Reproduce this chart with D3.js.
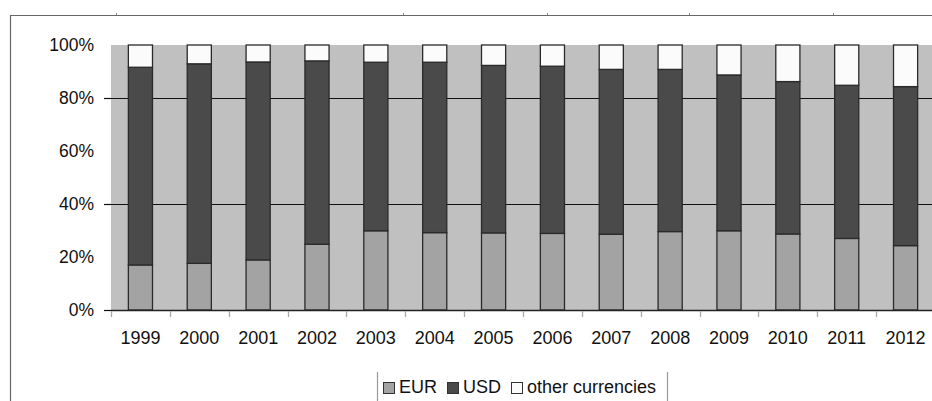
<!DOCTYPE html>
<html><head><meta charset="utf-8">
<script src="https://cdn.jsdelivr.net/npm/d3@7"></script>
<style>
html,body{margin:0;padding:0;background:#fff;}
svg{display:block;}
text{font-family:"Liberation Sans",Arial,sans-serif;fill:#111;}
</style></head>
<body>
<svg id="chart" width="932" height="401"></svg>
<script>
const years = ["1999","2000","2001","2002","2003","2004","2005","2006","2007","2008","2009","2010","2011","2012"];
const eur = [17.0,17.6,18.9,24.8,29.9,29.2,29.1,28.9,28.6,29.6,29.9,28.7,27.0,24.3];
const usd = [74.6,75.3,74.7,69.2,63.6,64.3,63.2,63.1,62.2,61.2,58.8,57.5,57.8,60.0];
const other = [8.4,7.1,6.4,6.0,6.5,6.5,7.7,8.0,9.2,9.2,11.3,13.8,15.2,15.7];
const seriesNames = ["EUR","USD","other currencies"];
const seriesColors = ["#a3a3a3","#4a4a4a","#fbfbfb"];
const yTicks = [0,20,40,60,80,100];
const gridValues = [40,80];

const svg = d3.select("#chart");
const m = {left:111, right:935, top:45, bottom:310};

// outer frame
svg.append("line").attr("x1",10).attr("x2",932).attr("y1",15.5).attr("y2",15.5).attr("stroke","#666").attr("stroke-width",1.2);
svg.append("line").attr("x1",10.5).attr("x2",10.5).attr("y1",15).attr("y2",401).attr("stroke","#666").attr("stroke-width",1.2);
[116,403,547,689,833].forEach(x=>svg.append("line").attr("x1",x+0.5).attr("x2",x+0.5).attr("y1",13).attr("y2",15).attr("stroke","#888"));

const x = d3.scaleBand().domain(years).range([m.left,m.right]).paddingInner(0.59).paddingOuter(0.295);
const y = d3.scaleLinear().domain([0,100]).range([m.bottom,m.top]);

// plot background
svg.append("rect").attr("x",m.left).attr("y",m.top).attr("width",m.right-m.left).attr("height",m.bottom-m.top).attr("fill","#c0c0c0");

// gridlines
svg.append("g").selectAll("line").data(gridValues).join("line")
  .attr("x1",m.left).attr("x2",m.right).attr("y1",d=>Math.round(y(d))+0.5).attr("y2",d=>Math.round(y(d))+0.5)
  .attr("stroke","#111").attr("stroke-width",1.2);

// stacked data
const data = years.map((yr,i)=>({year:yr, EUR:eur[i], USD:usd[i], "other currencies":other[i]}));
const stack = d3.stack().keys(seriesNames)(data);

svg.append("g").selectAll("g").data(stack).join("g")
  .attr("fill",(d,i)=>seriesColors[i])
  .selectAll("rect").data(d=>d).join("rect")
  .attr("x",d=>x(d.data.year))
  .attr("width",x.bandwidth())
  .attr("y",d=>y(d[1]))
  .attr("height",d=>y(d[0])-y(d[1]))
  .attr("stroke","#2a2a2a").attr("stroke-width",1.3);

// y axis
const yAxis = svg.append("g").attr("transform",`translate(${m.left},0)`)
  .call(d3.axisLeft(y).tickValues(yTicks).tickFormat(d=>d+"%").tickSize(7).tickPadding(10));
yAxis.select(".domain").remove();
yAxis.selectAll(".tick line").attr("stroke","#111").attr("stroke-width",1.2)
  .attr("opacity",d=>(d===0||gridValues.includes(d))?1:0);
yAxis.selectAll("text").attr("font-size","17.5px").attr("fill","#111");

// x axis
const xAxis = svg.append("g").attr("transform",`translate(0,${m.bottom})`)
  .call(d3.axisBottom(x).tickSize(0).tickPadding(21));
xAxis.select(".domain").remove();
xAxis.selectAll("text").attr("font-size","18px").attr("fill","#111");
svg.append("line").attr("x1",m.left).attr("x2",m.right).attr("y1",m.bottom+0.5).attr("y2",m.bottom+0.5).attr("stroke","#222").attr("stroke-width",1.3);
// category boundary ticks
const bounds = years.map((yr,i)=>m.left + i*x.step());
bounds.push(m.right);
svg.append("g").selectAll("line").data(bounds).join("line")
  .attr("x1",d=>Math.round(d)+0.5).attr("x2",d=>Math.round(d)+0.5)
  .attr("y1",m.bottom+1).attr("y2",m.bottom+7).attr("stroke","#aaa").attr("stroke-width",1.3);

// legend
const lg = svg.append("g");
lg.append("line").attr("x1",377.5).attr("x2",377.5).attr("y1",372).attr("y2",401).attr("stroke","#999").attr("stroke-width",1.2);
lg.append("line").attr("x1",667.5).attr("x2",667.5).attr("y1",372).attr("y2",401).attr("stroke","#999").attr("stroke-width",1.2);
const legX = [383,447,511];
seriesNames.forEach((s,i)=>{
  lg.append("rect").attr("x",legX[i]+0.5).attr("y",382.5).attr("width",11).attr("height",11)
    .attr("fill",seriesColors[i]).attr("stroke","#333").attr("stroke-width",1);
  lg.append("text").attr("x",legX[i]+16).attr("y",393).attr("font-size","18px").text(s);
});
</script>
</body></html>
